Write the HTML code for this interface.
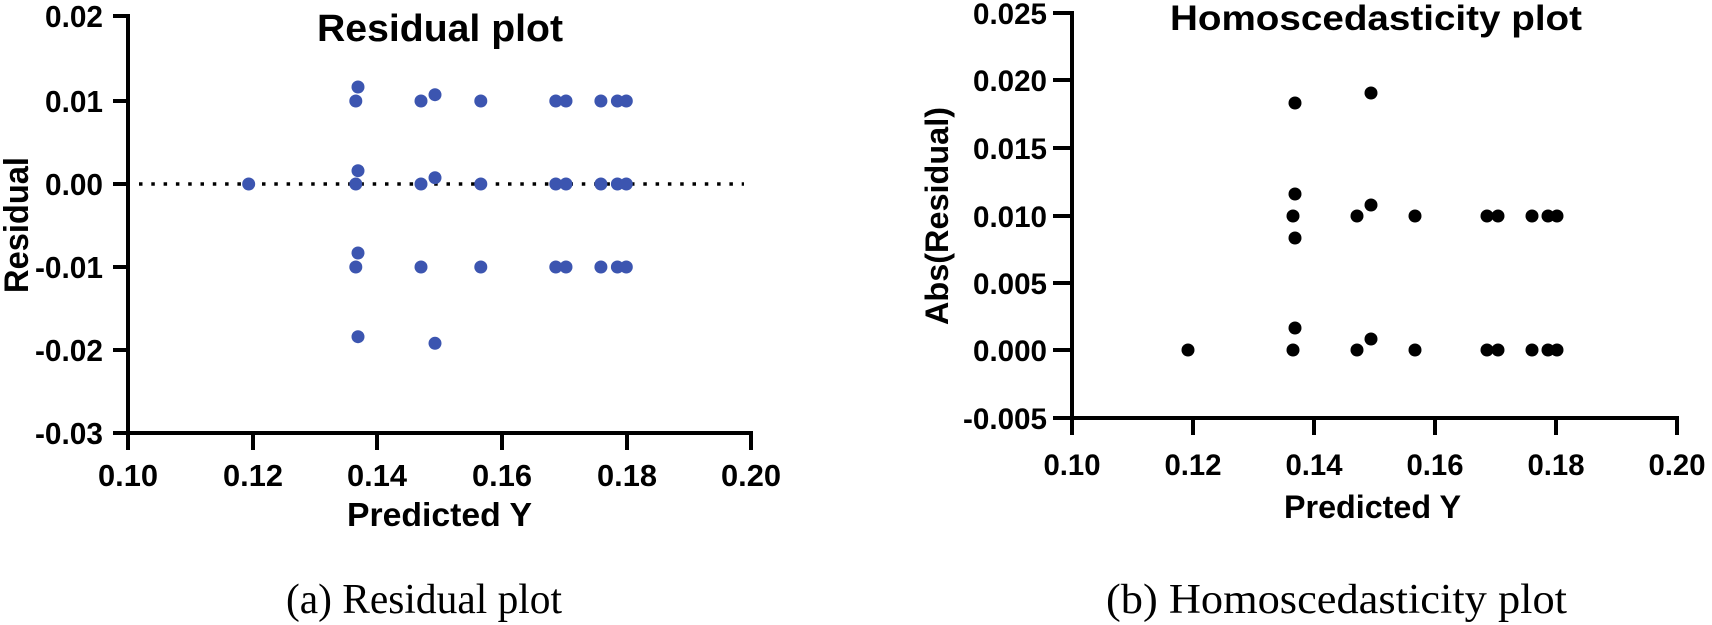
<!DOCTYPE html>
<html><head><meta charset="utf-8"><style>
html,body{margin:0;padding:0;background:#fff;}
svg{display:block;}
.t{font-family:"Liberation Sans",Arial,sans-serif;font-weight:bold;fill:#000;}
.c{font-family:"Liberation Serif","Times New Roman",serif;fill:#000;}
</style></head><body>
<svg width="1712" height="625" viewBox="0 0 1712 625" xmlns="http://www.w3.org/2000/svg">
<!-- LEFT PLOT -->
<g stroke="#000" stroke-width="4" fill="none">
  <line x1="128" y1="14" x2="128" y2="435"/>
  <line x1="126" y1="433" x2="753" y2="433"/>
  <line x1="113" y1="16" x2="128" y2="16"/>
  <line x1="113" y1="101" x2="128" y2="101"/>
  <line x1="113" y1="184" x2="128" y2="184"/>
  <line x1="113" y1="267" x2="128" y2="267"/>
  <line x1="113" y1="350" x2="128" y2="350"/>
  <line x1="113" y1="433" x2="128" y2="433"/>
  <line x1="128" y1="433" x2="128" y2="450"/>
  <line x1="253" y1="433" x2="253" y2="450"/>
  <line x1="377" y1="433" x2="377" y2="450"/>
  <line x1="502" y1="433" x2="502" y2="450"/>
  <line x1="627" y1="433" x2="627" y2="450"/>
  <line x1="751" y1="433" x2="751" y2="450"/>
</g>
<line x1="139" y1="184" x2="744" y2="184" stroke="#000" stroke-width="3.5" stroke-dasharray="3.5 8.8"/>
<g class="t" font-size="31" text-anchor="end">
  <text x="103" y="27" textLength="58" lengthAdjust="spacingAndGlyphs">0.02</text>
  <text x="103" y="112" textLength="58" lengthAdjust="spacingAndGlyphs">0.01</text>
  <text x="103" y="195" textLength="58" lengthAdjust="spacingAndGlyphs">0.00</text>
  <text x="103" y="278" textLength="68" lengthAdjust="spacingAndGlyphs">-0.01</text>
  <text x="103" y="361" textLength="68" lengthAdjust="spacingAndGlyphs">-0.02</text>
  <text x="103" y="444" textLength="68" lengthAdjust="spacingAndGlyphs">-0.03</text>
</g>
<g class="t" font-size="31" text-anchor="middle">
  <text x="128" y="486" textLength="60" lengthAdjust="spacingAndGlyphs">0.10</text>
  <text x="253" y="486" textLength="60" lengthAdjust="spacingAndGlyphs">0.12</text>
  <text x="377" y="486" textLength="60" lengthAdjust="spacingAndGlyphs">0.14</text>
  <text x="502" y="486" textLength="60" lengthAdjust="spacingAndGlyphs">0.16</text>
  <text x="627" y="486" textLength="60" lengthAdjust="spacingAndGlyphs">0.18</text>
  <text x="751" y="486" textLength="60" lengthAdjust="spacingAndGlyphs">0.20</text>
</g>
<text class="t" font-size="33" x="347" y="526" textLength="185" lengthAdjust="spacingAndGlyphs">Predicted Y</text>
<text class="t" font-size="38" x="317" y="41" textLength="246" lengthAdjust="spacingAndGlyphs">Residual plot</text>
<text class="t" font-size="34" transform="translate(28,293) rotate(-90)" textLength="136" lengthAdjust="spacingAndGlyphs">Residual</text>
<g fill="#3c55b0">
  <circle cx="248.7" cy="184" r="6.5"/>
  <circle cx="355.8" cy="101" r="6.5"/><circle cx="355.8" cy="184" r="6.5"/><circle cx="355.8" cy="267" r="6.5"/>
  <circle cx="358" cy="87" r="6.5"/><circle cx="358" cy="170.7" r="6.5"/><circle cx="358" cy="253" r="6.5"/><circle cx="358" cy="336.7" r="6.5"/>
  <circle cx="421" cy="101" r="6.5"/><circle cx="421" cy="184" r="6.5"/><circle cx="421" cy="267" r="6.5"/>
  <circle cx="435" cy="94.7" r="6.5"/><circle cx="435" cy="177.7" r="6.5"/><circle cx="435" cy="343.3" r="6.5"/>
  <circle cx="480.8" cy="101" r="6.5"/><circle cx="480.8" cy="184" r="6.5"/><circle cx="480.8" cy="267" r="6.5"/>
  <circle cx="555.8" cy="101" r="6.5"/><circle cx="555.8" cy="184" r="6.5"/><circle cx="555.8" cy="267" r="6.5"/>
  <circle cx="566" cy="101" r="6.5"/><circle cx="566" cy="184" r="6.5"/><circle cx="566" cy="267" r="6.5"/>
  <circle cx="600.9" cy="101" r="6.5"/><circle cx="600.9" cy="184" r="6.5"/><circle cx="600.9" cy="267" r="6.5"/>
  <circle cx="617.4" cy="101" r="6.5"/><circle cx="617.4" cy="184" r="6.5"/><circle cx="617.4" cy="267" r="6.5"/>
  <circle cx="626.3" cy="101" r="6.5"/><circle cx="626.3" cy="184" r="6.5"/><circle cx="626.3" cy="267" r="6.5"/>
</g>

<!-- RIGHT PLOT -->
<g stroke="#000" stroke-width="4" fill="none">
  <line x1="1072" y1="11" x2="1072" y2="420"/>
  <line x1="1070" y1="418" x2="1679" y2="418"/>
  <line x1="1053" y1="13" x2="1072" y2="13"/>
  <line x1="1053" y1="80" x2="1072" y2="80"/>
  <line x1="1053" y1="148" x2="1072" y2="148"/>
  <line x1="1053" y1="216" x2="1072" y2="216"/>
  <line x1="1053" y1="283" x2="1072" y2="283"/>
  <line x1="1053" y1="350" x2="1072" y2="350"/>
  <line x1="1053" y1="418" x2="1072" y2="418"/>
  <line x1="1072" y1="418" x2="1072" y2="435"/>
  <line x1="1193" y1="418" x2="1193" y2="435"/>
  <line x1="1314" y1="418" x2="1314" y2="435"/>
  <line x1="1435" y1="418" x2="1435" y2="435"/>
  <line x1="1556" y1="418" x2="1556" y2="435"/>
  <line x1="1677" y1="418" x2="1677" y2="435"/>
</g>
<g class="t" font-size="30" text-anchor="end">
  <text x="1047" y="24" textLength="74" lengthAdjust="spacingAndGlyphs">0.025</text>
  <text x="1047" y="91" textLength="74" lengthAdjust="spacingAndGlyphs">0.020</text>
  <text x="1047" y="159" textLength="74" lengthAdjust="spacingAndGlyphs">0.015</text>
  <text x="1047" y="227" textLength="74" lengthAdjust="spacingAndGlyphs">0.010</text>
  <text x="1047" y="294" textLength="74" lengthAdjust="spacingAndGlyphs">0.005</text>
  <text x="1047" y="361" textLength="74" lengthAdjust="spacingAndGlyphs">0.000</text>
  <text x="1047" y="429" textLength="84" lengthAdjust="spacingAndGlyphs">-0.005</text>
</g>
<g class="t" font-size="30" text-anchor="middle">
  <text x="1072" y="475" textLength="57" lengthAdjust="spacingAndGlyphs">0.10</text>
  <text x="1193" y="475" textLength="57" lengthAdjust="spacingAndGlyphs">0.12</text>
  <text x="1314" y="475" textLength="57" lengthAdjust="spacingAndGlyphs">0.14</text>
  <text x="1435" y="475" textLength="57" lengthAdjust="spacingAndGlyphs">0.16</text>
  <text x="1556" y="475" textLength="57" lengthAdjust="spacingAndGlyphs">0.18</text>
  <text x="1677" y="475" textLength="57" lengthAdjust="spacingAndGlyphs">0.20</text>
</g>
<text class="t" font-size="32" x="1284" y="518" textLength="177" lengthAdjust="spacingAndGlyphs">Predicted Y</text>
<text class="t" font-size="35" x="1170" y="30" textLength="412" lengthAdjust="spacingAndGlyphs">Homoscedasticity plot</text>
<text class="t" font-size="32" transform="translate(948,325) rotate(-90)" textLength="218" lengthAdjust="spacingAndGlyphs">Abs(Residual)</text>
<g fill="#000">
  <circle cx="1188" cy="350" r="6.5"/>
  <circle cx="1293" cy="216" r="6.5"/><circle cx="1293" cy="350" r="6.5"/>
  <circle cx="1295" cy="194" r="6.5"/><circle cx="1295" cy="328" r="6.5"/><circle cx="1295" cy="238" r="6.5"/><circle cx="1295" cy="103" r="6.5"/>
  <circle cx="1357" cy="216" r="6.5"/><circle cx="1357" cy="350" r="6.5"/>
  <circle cx="1371" cy="205" r="6.5"/><circle cx="1371" cy="339" r="6.5"/><circle cx="1371" cy="93" r="6.5"/>
  <circle cx="1415" cy="216" r="6.5"/><circle cx="1415" cy="350" r="6.5"/>
  <circle cx="1487" cy="216" r="6.5"/><circle cx="1487" cy="350" r="6.5"/>
  <circle cx="1498" cy="216" r="6.5"/><circle cx="1498" cy="350" r="6.5"/>
  <circle cx="1532" cy="216" r="6.5"/><circle cx="1532" cy="350" r="6.5"/>
  <circle cx="1548" cy="216" r="6.5"/><circle cx="1548" cy="350" r="6.5"/>
  <circle cx="1557" cy="216" r="6.5"/><circle cx="1557" cy="350" r="6.5"/>
</g>

<!-- CAPTIONS -->
<text class="c" font-size="42" x="286" y="613" textLength="276" lengthAdjust="spacingAndGlyphs">(a) Residual plot</text>
<text class="c" font-size="42" x="1106" y="613" textLength="461" lengthAdjust="spacingAndGlyphs">(b) Homoscedasticity plot</text>
</svg>
</body></html>
